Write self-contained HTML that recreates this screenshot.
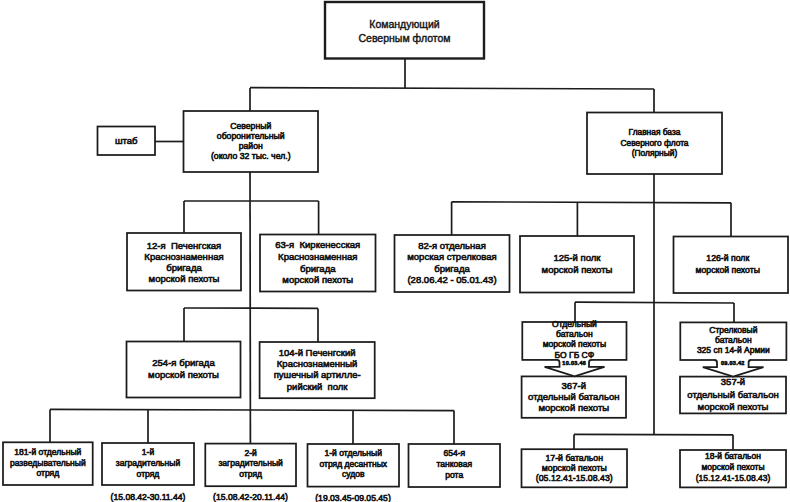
<!DOCTYPE html><html><head><meta charset="utf-8"><style>
html,body{margin:0;padding:0;background:#fff;}
body{width:790px;height:502px;position:relative;overflow:hidden;font-family:"Liberation Sans",sans-serif;color:#161616;}
svg{position:absolute;left:0;top:0;}
.t{position:absolute;display:flex;flex-direction:column;justify-content:center;align-items:center;text-align:center;white-space:pre;-webkit-text-stroke:0.6px #111;}
.t div{display:block;}
.d{position:absolute;white-space:pre;transform:translate(-50%,-50%);-webkit-text-stroke:0.6px #111;}
</style></head><body>
<svg width="790" height="502" viewBox="0 0 790 502">
<rect x="325" y="2" width="159.0" height="56.5" fill="none" stroke="#1c1c1c" stroke-width="2.4"/>
<rect x="97.5" y="126.5" width="57.5" height="28.5" fill="none" stroke="#1c1c1c" stroke-width="1.75"/>
<rect x="183.5" y="111" width="134.5" height="61.0" fill="none" stroke="#1c1c1c" stroke-width="1.75"/>
<rect x="587" y="112.5" width="135.0" height="61.5" fill="none" stroke="#1c1c1c" stroke-width="1.75"/>
<rect x="127" y="233" width="114.0" height="57.5" fill="none" stroke="#1c1c1c" stroke-width="1.75"/>
<rect x="260" y="234.5" width="115.5" height="57.0" fill="none" stroke="#1c1c1c" stroke-width="1.75"/>
<rect x="394.5" y="235" width="115.0" height="57.0" fill="none" stroke="#1c1c1c" stroke-width="1.75"/>
<rect x="520" y="236" width="114.0" height="56.5" fill="none" stroke="#1c1c1c" stroke-width="1.75"/>
<rect x="673.5" y="236.5" width="114.5" height="56.5" fill="none" stroke="#1c1c1c" stroke-width="1.75"/>
<rect x="126.5" y="341.5" width="114.0" height="56.0" fill="none" stroke="#1c1c1c" stroke-width="1.75"/>
<rect x="259.6" y="342" width="115.1" height="56.2" fill="none" stroke="#1c1c1c" stroke-width="1.75"/>
<rect x="3" y="442.3" width="89.7" height="42.7" fill="none" stroke="#1c1c1c" stroke-width="1.75"/>
<rect x="102" y="443" width="92.0" height="42.0" fill="none" stroke="#1c1c1c" stroke-width="1.75"/>
<rect x="205.3" y="443.6" width="90.7" height="42.6" fill="none" stroke="#1c1c1c" stroke-width="1.75"/>
<rect x="307.5" y="444" width="91.5" height="42.6" fill="none" stroke="#1c1c1c" stroke-width="1.75"/>
<rect x="408.5" y="444" width="91.5" height="43.0" fill="none" stroke="#1c1c1c" stroke-width="1.75"/>
<rect x="522.3" y="322" width="104.2" height="37.9" fill="none" stroke="#1c1c1c" stroke-width="1.75"/>
<rect x="680.3" y="322.4" width="106.1" height="37.6" fill="none" stroke="#1c1c1c" stroke-width="1.75"/>
<rect x="521.6" y="376.4" width="104.4" height="41.4" fill="none" stroke="#1c1c1c" stroke-width="1.75"/>
<rect x="680" y="376.6" width="106.0" height="36.8" fill="none" stroke="#1c1c1c" stroke-width="1.75"/>
<rect x="521.5" y="449.2" width="105.5" height="38.1" fill="none" stroke="#1c1c1c" stroke-width="1.75"/>
<rect x="680" y="450" width="106.0" height="37.4" fill="none" stroke="#1c1c1c" stroke-width="1.75"/>
<line x1="405" y1="58.5" x2="405" y2="88" stroke="#1c1c1c" stroke-width="1.7"/>
<line x1="250" y1="87.6" x2="654" y2="89" stroke="#1c1c1c" stroke-width="1.7"/>
<line x1="250" y1="88" x2="250" y2="111" stroke="#1c1c1c" stroke-width="1.7"/>
<line x1="250" y1="172" x2="250.4" y2="443.6" stroke="#1c1c1c" stroke-width="1.7"/>
<line x1="155" y1="141.5" x2="183.5" y2="141.5" stroke="#1c1c1c" stroke-width="1.7"/>
<line x1="654" y1="89" x2="654" y2="112.5" stroke="#1c1c1c" stroke-width="1.7"/>
<line x1="654" y1="174" x2="654" y2="434.5" stroke="#1c1c1c" stroke-width="1.7"/>
<line x1="184" y1="201" x2="318.6" y2="201" stroke="#1c1c1c" stroke-width="1.7"/>
<line x1="184" y1="201" x2="184" y2="233" stroke="#1c1c1c" stroke-width="1.7"/>
<line x1="318.6" y1="201" x2="318.6" y2="234.5" stroke="#1c1c1c" stroke-width="1.7"/>
<line x1="451.6" y1="201.8" x2="731" y2="202.8" stroke="#1c1c1c" stroke-width="1.7"/>
<line x1="451.6" y1="201.8" x2="451.6" y2="235" stroke="#1c1c1c" stroke-width="1.7"/>
<line x1="577.4" y1="202.2" x2="577.4" y2="236" stroke="#1c1c1c" stroke-width="1.7"/>
<line x1="731" y1="202.8" x2="731" y2="236.5" stroke="#1c1c1c" stroke-width="1.7"/>
<line x1="184" y1="308" x2="318" y2="308.4" stroke="#1c1c1c" stroke-width="1.7"/>
<line x1="184" y1="308" x2="184" y2="341.5" stroke="#1c1c1c" stroke-width="1.7"/>
<line x1="318" y1="308.4" x2="318" y2="342" stroke="#1c1c1c" stroke-width="1.7"/>
<line x1="50" y1="409.4" x2="454" y2="410.6" stroke="#1c1c1c" stroke-width="1.7"/>
<line x1="50" y1="409.4" x2="50" y2="442.3" stroke="#1c1c1c" stroke-width="1.7"/>
<line x1="148" y1="409.6" x2="148" y2="443" stroke="#1c1c1c" stroke-width="1.7"/>
<line x1="353" y1="410.3" x2="353" y2="444" stroke="#1c1c1c" stroke-width="1.7"/>
<line x1="454" y1="410.6" x2="454" y2="444" stroke="#1c1c1c" stroke-width="1.7"/>
<line x1="575" y1="302.2" x2="734" y2="303" stroke="#1c1c1c" stroke-width="1.7"/>
<line x1="575" y1="302.2" x2="575" y2="322" stroke="#1c1c1c" stroke-width="1.7"/>
<line x1="734" y1="303" x2="734" y2="322.4" stroke="#1c1c1c" stroke-width="1.7"/>
<line x1="574" y1="434.4" x2="733" y2="434.8" stroke="#1c1c1c" stroke-width="1.7"/>
<line x1="574" y1="434.4" x2="574" y2="449.2" stroke="#1c1c1c" stroke-width="1.7"/>
<line x1="733" y1="434.8" x2="733" y2="450" stroke="#1c1c1c" stroke-width="1.7"/>
<path d="M559.3 359.9 L559.5 366.8 L544.6 366.8 L574.55 376.4 L604.5 366.8 L589 366.8 L589.2 359.9 Z" fill="#fff" stroke="none"/>
<rect x="557.5" y="358.29999999999995" width="33.5" height="3.4" fill="#fff"/>
<path d="M557.0 359.9 Q559.5 359.9 559.5 362.4 L559.5 366.8 L544.6 366.8 L574.55 376.4 L604.5 366.8 L589 366.8 L589 362.4 Q589 359.9 591.5 359.9" fill="none" stroke="#1c1c1c" stroke-width="1.8" stroke-linejoin="miter"/>
<path d="M716.8 360 L717 367.2 L702.8 367.2 L733.15 376.6 L763.5 367.2 L748.6 367.2 L748.8000000000001 360 Z" fill="#fff" stroke="none"/>
<rect x="715" y="358.4" width="35.60000000000002" height="3.4" fill="#fff"/>
<path d="M714.5 360 Q717 360 717 362.5 L717 367.2 L702.8 367.2 L733.15 376.6 L763.5 367.2 L748.6 367.2 L748.6 362.5 Q748.6 360 751.1 360" fill="none" stroke="#1c1c1c" stroke-width="1.8" stroke-linejoin="miter"/>
</svg>
<div class="t" style="left:325px;top:17.00px;width:159.0px;font-size:10.5px;line-height:14px;-webkit-text-stroke:0.4px #111;"><div>Командующий</div><div>Северным флотом</div></div>
<div class="t" style="left:97.5px;top:136.00px;width:57.5px;font-size:9.5px;line-height:10px;"><div>штаб</div></div>
<div class="t" style="left:183.5px;top:121.00px;width:134.5px;font-size:8.7px;line-height:10.1px;"><div>Северный</div><div>оборонительный</div><div>район</div><div>(около 32 тыс. чел.)</div></div>
<div class="t" style="left:587px;top:127.28px;width:135.0px;font-size:8.4px;line-height:10.35px;"><div>Главная база</div><div>Северного флота</div><div>(Полярный)</div></div>
<div class="t" style="left:127px;top:239.80px;width:114.0px;font-size:9.55px;line-height:11.1px;"><div>12-я  Печенгская</div><div>Краснознаменная</div><div>бригада</div><div>морской пехоты</div></div>
<div class="t" style="left:260px;top:239.30px;width:115.5px;font-size:9.55px;line-height:11.7px;"><div>63-я  Киркенесская</div><div>Краснознаменная</div><div>бригада</div><div>морской пехоты</div></div>
<div class="t" style="left:394.5px;top:240.00px;width:115.0px;font-size:9.55px;line-height:11.4px;"><div>82-я отдельная</div><div>морская стрелковая</div><div>бригада</div><div>(28.06.42 - 05.01.43)</div></div>
<div class="t" style="left:520px;top:252.30px;width:114.0px;font-size:9.55px;line-height:12px;"><div>125-й полк</div><div>морской пехоты</div></div>
<div class="t" style="left:673.5px;top:252.30px;width:114.5px;font-size:8.7px;line-height:12px;margin-left:-3px;"><div>126-й полк</div><div>морской пехоты</div></div>
<div class="t" style="left:126.5px;top:357.30px;width:114.0px;font-size:9.55px;line-height:11.2px;"><div>254-я бригада</div><div>морской пехоты</div></div>
<div class="t" style="left:259.6px;top:346.60px;width:115.1px;font-size:9.5px;line-height:11.4px;"><div>104-й Печенгский</div><div>Краснознаменный</div><div>пушечный артилле-</div><div>рийский  полк</div></div>
<div class="t" style="left:3px;top:447.40px;width:89.7px;font-size:8.55px;line-height:10.2px;"><div>181-й отдельный</div><div>разведывательный</div><div>отряд</div></div>
<div class="t" style="left:102px;top:447.22px;width:92.0px;font-size:8.55px;line-height:10.65px;"><div>1-й</div><div>заградительный</div><div>отряд</div></div>
<div class="t" style="left:205.3px;top:447.95px;width:90.7px;font-size:8.55px;line-height:10.5px;"><div>2-й</div><div>заградительный</div><div>отряд</div></div>
<div class="t" style="left:307.5px;top:448.30px;width:91.5px;font-size:8.55px;line-height:10.6px;"><div>1-й отдельный</div><div>отряд десантных</div><div>судов</div></div>
<div class="t" style="left:408.5px;top:448.07px;width:91.5px;font-size:8.55px;line-height:10.95px;"><div>654-я</div><div>танковая</div><div>рота</div></div>
<div class="t" style="left:522.3px;top:319.00px;width:104.2px;font-size:8.55px;line-height:10.2px;"><div>Отдельный</div><div>батальон</div><div>морской пехоты</div><div>БО ГБ СФ</div></div>
<div class="t" style="left:680.3px;top:324.73px;width:106.1px;font-size:8.5px;line-height:10.25px;"><div>Стрелковый</div><div>батальон</div><div>325 сп 14-й Армии</div></div>
<div class="t" style="left:521.6px;top:379.97px;width:104.4px;font-size:9.55px;line-height:11.15px;"><div>367-й</div><div>отдельный батальон</div><div>морской пехоты</div></div>
<div class="t" style="left:680px;top:376.40px;width:106.0px;font-size:9.55px;line-height:12.2px;"><div>357-й</div><div>отдельный батальон</div><div>морской пехоты</div></div>
<div class="t" style="left:521.5px;top:452.60px;width:105.5px;font-size:8.75px;line-height:10px;"><div>17-й батальон</div><div>морской пехоты</div><div>(05.12.41-15.08.43)</div></div>
<div class="t" style="left:680px;top:451.10px;width:106.0px;font-size:8.5px;line-height:11px;"><div>18-й батальон</div><div>морской пехоты</div><div>(15.12.41-15.08.43)</div></div>
<div class="d" style="left:574.25px;top:363.2px;font-size:5.5px;font-weight:bold;letter-spacing:0.3px">10.03.46</div>
<div class="d" style="left:732.8px;top:363.3px;font-size:5.5px;font-weight:bold;letter-spacing:0.3px">09.03.42</div>
<div class="d" style="left:148px;top:497px;font-size:8.6px">(15.08.42-30.11.44)</div>
<div class="d" style="left:250.5px;top:497px;font-size:8.6px">(15.08.42-20.11.44)</div>
<div class="d" style="left:353px;top:497.5px;font-size:8.6px">(19.03.45-09.05.45)</div>
</body></html>
